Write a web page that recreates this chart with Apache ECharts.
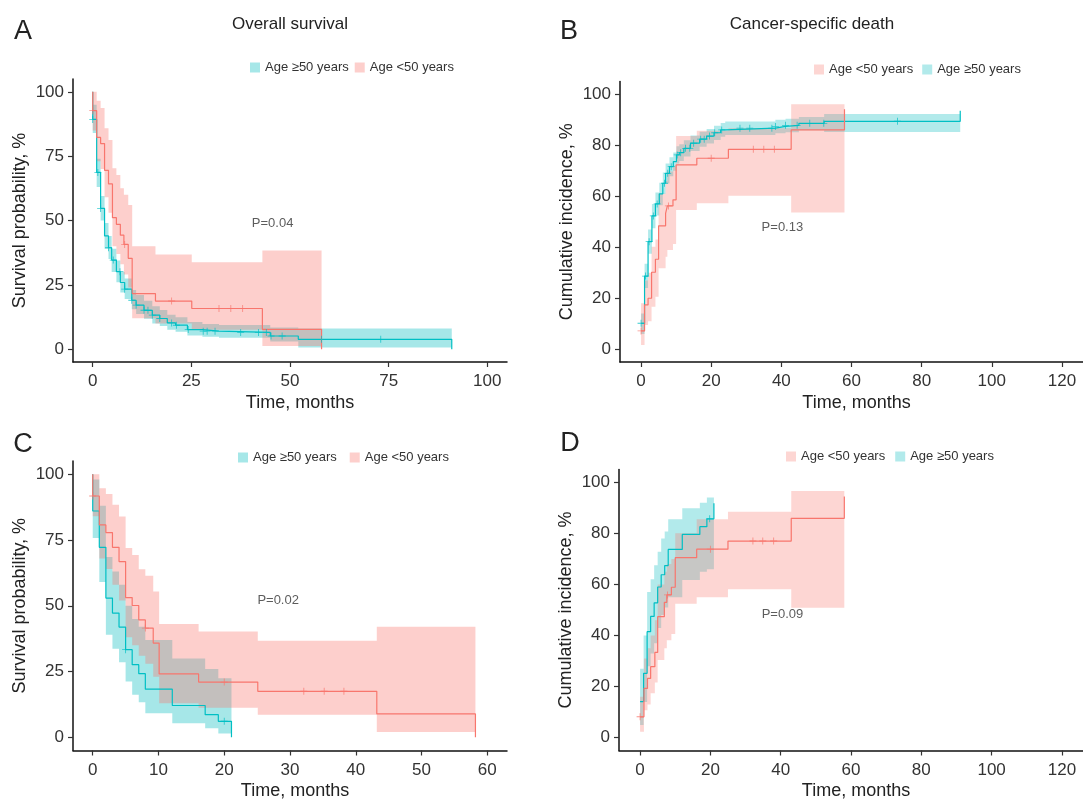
<!DOCTYPE html>
<html>
<head>
<meta charset="utf-8">
<title>Survival by age</title>
<script src="https://cdn.jsdelivr.net/npm/echarts@6/dist/echarts.min.js"></script>
<style>
  html, body { margin: 0; padding: 0; background: #fff; }
  #chart { width: 1083px; height: 804px; }
</style>
</head>
<body>
<div id="chart"></div>
<script>
// rows: [time, estimate, lower CI, upper CI]; the last row only closes the curve
// A - overall survival
var osYoung = [
  [0, 100, 100, 100], [0, 92.7, 85, 100], [1, 82.3, 73, 96.5], [2, 79.9, 70, 93.7],
  [3, 69.5, 59, 85.9], [4, 64.2, 53, 81.3], [5, 51.1, 40, 70.3], [6, 48.5, 37, 67.7],
  [7, 44.3, 33, 62.5], [7.9, 40.7, 29, 60], [9, 35.3, 24, 56], [10, 21.6, 12, 40],
  [15.9, 18.7, 10, 36.8], [25.1, 15.8, 7.5, 33.8], [43, 7.7, 1.2, 38.3], [58, 0, null, null]
]
var osYoungCens = [0, 8.1, 20, 32, 35, 38]
var osOld = [
  [0, 100, 100, 100], [0, 89.3, 84, 95], [1, 68.7, 63, 74], [2, 54.7, 50, 59.5],
  [3, 44, 39, 49], [4, 39.4, 35, 44], [4.8, 34.6, 30, 39], [6, 30.1, 26, 34.5],
  [7, 25.9, 22, 30], [8.1, 23.3, 19.5, 27.5], [9.9, 19.0, 15.5, 23], [11, 17.1, 13.7, 21],
  [13, 15.1, 11.8, 18.8], [15.1, 13.2, 10, 16.7], [17, 11.9, 9, 15.2], [18.9, 10.2, 7.5, 13.4],
  [21, 9.3, 6.8, 12.4], [24, 7.6, 5.3, 10.5], [27.8, 7.0, 4.8, 9.8], [32, 6.5, 4.4, 9.4],
  [45, 5.1, 3.0, 8.4], [52.1, 3.8, 0.6, 8.0], [91, 0, null, null]
]
var osOldCens = [0, 1.3, 2, 4, 5.2, 6.9, 8.1, 9.9, 11, 13, 14, 15.1, 17, 20, 21.2, 24.2,
  28, 29, 31, 37.5, 42, 44, 45.2, 48, 58, 73]

// B - cancer-specific death, cumulative incidence
var csdYoung = [
  [0, 7.2, 1.7, 18], [1, 17.4, 9.5, 27], [2, 20.0, 11, 30], [3, 30.2, 16.7, 40.2],
  [4.1, 35.3, 20.6, 43], [5, 48.4, 31.8, 61], [7, 53.3, 36.3, 66], [7.5, 56.2, 38.9, 69.7],
  [9.1, 58.6, 41.3, 72], [10, 72.3, 54.6, 83.6], [15.9, 74.9, 57.3, 85.7],
  [24.9, 78.4, 60.2, 86.7], [42.8, 86.0, 53.6, 96.1], [58, 94.1, null, null]
]
var csdYoungCens = [0, 7.8, 20, 32, 35, 38]
var csdOld = [
  [0, 10.2, 6, 14], [1, 28.7, 24, 33.5], [2, 42.2, 37.5, 47], [3.1, 52.3, 47.5, 57],
  [4.1, 57.0, 52.5, 61.5], [5.2, 60.9, 56.5, 65.3], [6.2, 65.1, 60.9, 69.3], [7, 69.0, 65, 72.8],
  [8.1, 71.6, 67.8, 75.3], [9.2, 73.6, 70, 77.2], [10.1, 76.2, 72.8, 79.6], [10.9, 77.1, 73.8, 80.4],
  [12.2, 78.8, 75.6, 82], [14.1, 80.8, 77.7, 83.8], [16.7, 82.4, 79.4, 85.3], [18.7, 83.6, 80.7, 86.4],
  [20.8, 84.9, 82.1, 87.6], [22.7, 86.0, 83.3, 88.7], [24, 86.7, 84, 89.3], [38.3, 87.4, 84.7, 90],
  [41.2, 87.8, 85.1, 90.4], [45, 88.6, 85.9, 91.1], [52.2, 89.4, 85.2, 92.3], [91, 93.5, null, null]
]
var csdOldCens = [0, 1.3, 2.3, 3.5, 4.6, 6.7, 7.6, 8.6, 10.3, 11.3, 12.7, 13.9, 15, 17, 18,
  19.5, 21, 23, 28.2, 31, 37.3, 38.3, 41.2, 44.5, 48.1, 52.1, 73.1]

// C - overall survival, second cohort
var os2Young = [
  [0, 100, 100, 100], [0, 91.7, 84, 100], [1, 80.7, 68, 94.6], [2, 77.8, 64, 92.5],
  [3, 72.2, 58, 88.4], [4, 66.8, 52, 83.9], [5, 53.1, 38, 71.9], [6, 50.1, 35, 69.3],
  [7, 44.6, 31, 63.9], [8, 41.5, 28, 61.4], [9.2, 35.8, 23, 55.4], [10.1, 24.1, 13, 43.1],
  [16.1, 21.0, 11.2, 40.2], [25.1, 17.5, 8.6, 36.7], [43.2, 8.9, 2.0, 42.0], [58.2, 0, null, null]
]
var os2YoungCens = [0, 8, 20, 32.1, 35.2, 38.2]
var os2Old = [
  [0, 100, 100, 100], [0, 86, 75.7, 98], [1, 72.2, 59, 88], [2, 52.9, 39, 68.5],
  [3, 47.2, 33.7, 63], [4, 41.9, 28.5, 58], [5, 33.3, 21.2, 50], [6, 27.6, 16.2, 45],
  [7, 24.2, 13.3, 42], [8, 18.3, 9.2, 37], [12.1, 12.1, 5.4, 30], [17.1, 8.6, 3.5, 26],
  [19.1, 6.1, 1.5, 22.5], [21.1, 0, null, null]
]
var os2OldCens = [5, 20]

// D - cancer-specific death, second cohort
var csd2Young = [
  [0, 8.2, 2.3, 16], [1.1, 19.3, 10.8, 31], [2.1, 23.2, 13, 35], [3, 27.8, 17.4, 40],
  [4.2, 33.4, 21.6, 46], [5, 47.4, 30.4, 60], [6.9, 53.0, 35, 65], [7.6, 55.9, 38.2, 68],
  [8.9, 58.9, 40.6, 70], [10, 70.5, 52.4, 80], [16.1, 73.8, 55, 85.5], [25, 77.0, 58.1, 88.5],
  [43, 85.9, 50.9, 96.6], [58.1, 94.4, null, null]
]
var csd2YoungCens = [0, 7.8, 20, 32.1, 34.9, 38]
var csd2Old = [
  [0, 14.1, 5, 27], [1, 25.2, 14, 40], [2, 41.5, 28, 57], [3, 47.5, 33, 62],
  [4, 52.8, 37, 67.5], [5, 59, 43, 72.8], [6, 63.8, 48, 78], [7, 67.4, 51, 80.7],
  [8, 73.7, 55, 85.5], [12, 79.6, 61.7, 89.8], [17, 82.6, 65, 92], [19, 85.7, 66, 94],
  [21, 91.8, null, null]
]
var csd2OldCens = [19.8]

var survTicks = [0, 25, 50, 75, 100]
var incTicks = [0, 20, 40, 60, 80, 100]
var timeTicksA = [0, 25, 50, 75, 100]
var timeTicksC = [0, 10, 20, 30, 40, 50, 60]
var timeTicksBD = [0, 20, 40, 60, 80, 100, 120]
var pValues = ['P=0.04', 'P=0.13', 'P=0.02', 'P=0.09']
var pPos = [[45.6, 49], [40.3, 47.6], [28.2, 51.9], [40.5, 48.4]]

var OLD = 'Age \u226550 years'
var YOUNG = 'Age <50 years'
var RED = '#F8766D'
var TEAL = '#00BFC4'
var FONT = 'Liberation Sans, Arial, Helvetica, sans-serif'
var PLUS = 'path://M4.4,0H5.6V4.4H10V5.6H5.6V10H4.4V5.6H0V4.4H4.4Z'

function fill (c, a) {
  return c === RED ? 'rgba(248,118,109,' + a + ')' : 'rgba(0,185,190,' + a + ')'
}

// value of the step curve at time t
function stepValue (rows, t) {
  var v = rows[0][1]
  for (var i = 0; i < rows.length; i++) {
    if (rows[i][0] <= t) v = rows[i][1]
  }
  return v
}

// confidence ribbon drawn as one polygon through the axis scales
function band (rows, name, color, alpha, gi) {
  return {
    type: 'custom',
    name: name,
    xAxisIndex: gi,
    yAxisIndex: gi,
    silent: true,
    z: 1,
    data: rows.map(function (r) { return [r[0], r[1]] }),
    renderItem: function (params, api) {
      if (params.dataIndex !== 0) return null
      var up = []
      var lo = []
      for (var i = 0; i < rows.length - 1; i++) {
        if (rows[i][2] == null) continue
        var t0 = rows[i][0]
        var t1 = rows[i + 1][0]
        up.push(api.coord([t0, rows[i][3]]), api.coord([t1, rows[i][3]]))
        lo.push(api.coord([t0, rows[i][2]]), api.coord([t1, rows[i][2]]))
      }
      return {
        type: 'polygon',
        shape: { points: up.concat(lo.reverse()) },
        style: { fill: fill(color, alpha) }
      }
    }
  }
}

function curve (rows, color, gi) {
  return {
    type: 'line',
    step: 'end',
    xAxisIndex: gi,
    yAxisIndex: gi,
    silent: true,
    symbol: 'none',
    z: 3,
    lineStyle: { color: color, width: 1.2 },
    data: rows.map(function (r) { return [r[0], r[1]] })
  }
}

function censors (rows, times, color, gi) {
  return {
    type: 'scatter',
    xAxisIndex: gi,
    yAxisIndex: gi,
    silent: true,
    symbol: PLUS,
    symbolSize: 7,
    z: 4,
    itemStyle: { color: color },
    data: times.map(function (t) { return [t, stepValue(rows, t)] })
  }
}

function pLabel (gi) {
  return {
    type: 'scatter',
    xAxisIndex: gi,
    yAxisIndex: gi,
    silent: true,
    symbolSize: 0,
    z: 5,
    data: [pPos[gi]],
    label: {
      show: true,
      position: 'inside',
      formatter: pValues[gi],
      fontSize: 13,
      color: '#333',
      fontFamily: FONT
    }
  }
}

var grids = [
  { left: 73, top: 79, width: 434, height: 283 },
  { left: 620, top: 81.5, width: 463, height: 280.5 },
  { left: 73, top: 461, width: 434, height: 289.5 },
  { left: 619, top: 469.5, width: 464, height: 281 }
]
var xRanges = [[-5, 105], [-6, 126], [-3, 63], [-6, 126]]
var xTicks = [timeTicksA, timeTicksBD, timeTicksC, timeTicksBD]
var yTicks = [survTicks, incTicks, survTicks, incTicks]
var yNames = ['Survival probability, %', 'Cumulative incidence, %',
  'Survival probability, %', 'Cumulative incidence, %']

var xAxes = grids.map(function (g, i) {
  return {
    type: 'value',
    gridIndex: i,
    min: xRanges[i][0],
    max: xRanges[i][1],
    name: 'Time, months',
    nameLocation: 'middle',
    nameGap: 32,
    nameTextStyle: { fontSize: 18, color: '#222', fontFamily: FONT, padding: i === 0 ? [0, 0, 0, 20] : [0, 0, 0, 10] },
    axisLine: { onZero: false, lineStyle: { color: '#111', width: 1.5 } },
    axisTick: { show: true, length: 5, customValues: xTicks[i], lineStyle: { color: '#333', width: 1.2 } },
    axisLabel: { customValues: xTicks[i], fontSize: 17, color: '#333', margin: 11, fontFamily: FONT },
    splitLine: { show: false }
  }
})

var yAxes = grids.map(function (g, i) {
  return {
    type: 'value',
    gridIndex: i,
    min: -5,
    max: 105,
    name: yNames[i],
    nameLocation: 'middle',
    nameRotate: 90,
    nameGap: 44,
    nameTextStyle: { fontSize: 18, color: '#222', fontFamily: FONT },
    axisLine: { show: true, onZero: false, lineStyle: { color: '#111', width: 1.5 } },
    axisTick: { show: true, length: 5, customValues: yTicks[i], lineStyle: { color: '#333', width: 1.2 } },
    axisLabel: { customValues: yTicks[i], fontSize: 17, color: '#333', margin: 9, fontFamily: FONT },
    splitLine: { show: false }
  }
})

function legendItem (name, color, alpha) {
  return { name: name, icon: 'rect', itemStyle: { color: fill(color, alpha) } }
}

var legendText = { fontSize: 13, color: '#333', fontFamily: FONT }
var legends = [
  { left: 245, top: 56, itemGap: 6, data: [legendItem(OLD, TEAL, 0.35), legendItem(YOUNG, RED, 0.35)] },
  { left: 809, top: 58, itemGap: 9, data: [legendItem(YOUNG, RED, 0.3), legendItem(OLD, TEAL, 0.3)] },
  { left: 233, top: 446, itemGap: 13, data: [legendItem(OLD, TEAL, 0.35), legendItem(YOUNG, RED, 0.35)] },
  { left: 781, top: 445, itemGap: 10, data: [legendItem(YOUNG, RED, 0.3), legendItem(OLD, TEAL, 0.3)] }
].map(function (l) {
  l.itemWidth = 10
  l.itemHeight = 10
  l.selectedMode = false
  l.textStyle = legendText
  return l
})

var series = [
  band(osOld, OLD, TEAL, 0.35, 0), band(osYoung, YOUNG, RED, 0.35, 0),
  curve(osOld, TEAL, 0), curve(osYoung, RED, 0),
  censors(osOld, osOldCens, TEAL, 0), censors(osYoung, osYoungCens, RED, 0), pLabel(0),

  band(csdOld, OLD, TEAL, 0.3, 1), band(csdYoung, YOUNG, RED, 0.3, 1),
  curve(csdOld, TEAL, 1), curve(csdYoung, RED, 1),
  censors(csdOld, csdOldCens, TEAL, 1), censors(csdYoung, csdYoungCens, RED, 1), pLabel(1),

  band(os2Old, OLD, TEAL, 0.35, 2), band(os2Young, YOUNG, RED, 0.35, 2),
  curve(os2Old, TEAL, 2), curve(os2Young, RED, 2),
  censors(os2Old, os2OldCens, TEAL, 2), censors(os2Young, os2YoungCens, RED, 2), pLabel(2),

  band(csd2Old, OLD, TEAL, 0.3, 3), band(csd2Young, YOUNG, RED, 0.3, 3),
  curve(csd2Old, TEAL, 3), curve(csd2Young, RED, 3),
  censors(csd2Old, csd2OldCens, TEAL, 3), censors(csd2Young, csd2YoungCens, RED, 3), pLabel(3)
]

function text (str, x, y, size) {
  return {
    type: 'text',
    x: x,
    y: y,
    silent: true,
    style: { text: str, fontSize: size, fontFamily: FONT, fill: '#222', align: 'center', verticalAlign: 'middle' }
  }
}

var option = {
  animation: false,
  backgroundColor: '#fff',
  grid: grids,
  xAxis: xAxes,
  yAxis: yAxes,
  legend: legends,
  series: series,
  graphic: [
    text('Overall survival', 290, 24, 17),
    text('Cancer-specific death', 812, 24, 17),
    text('A', 23, 32, 27),
    text('B', 569, 32, 27),
    text('C', 23, 445, 27),
    text('D', 570, 444, 27)
  ]
}

var chart = echarts.init(document.getElementById('chart'))
chart.setOption(option)
</script>
</body>
</html>
